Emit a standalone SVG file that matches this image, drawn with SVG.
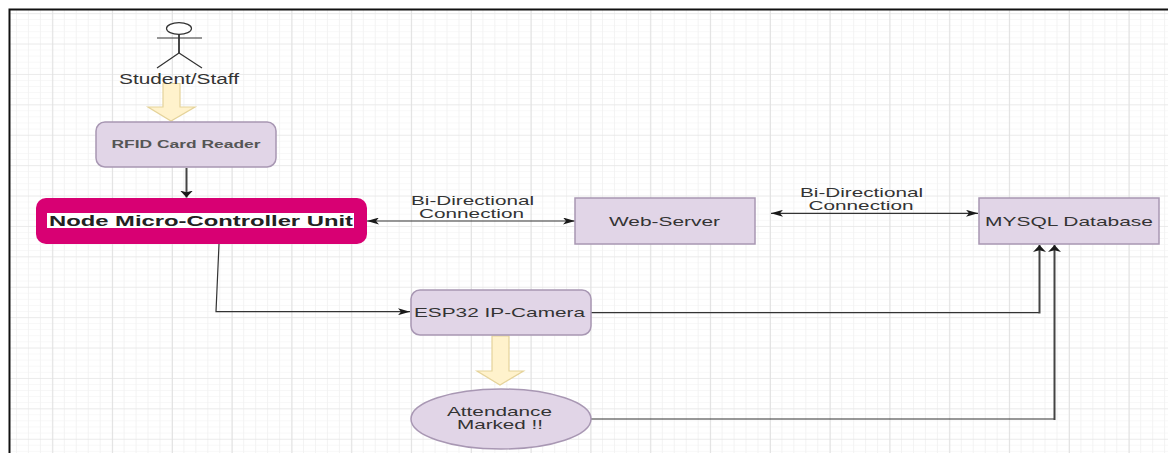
<svg xmlns="http://www.w3.org/2000/svg" width="1168" height="453" viewBox="0 0 1168 453">
<defs>
<marker id="h" viewBox="0 0 10 10" refX="10" refY="5" markerWidth="12" markerHeight="7" markerUnits="userSpaceOnUse" orient="auto-start-reverse" preserveAspectRatio="none"><path d="M0 0L10 5L0 10L2.500 5Z" fill="#1a1a1a"/></marker>
<marker id="v" viewBox="0 0 10 10" refX="10" refY="5" markerWidth="7" markerHeight="13" markerUnits="userSpaceOnUse" orient="auto" preserveAspectRatio="none"><path d="M0 0L10 5L0 10L2.500 5Z" fill="#1a1a1a"/></marker>
<pattern id="minor" x="4" y="7" width="11.960" height="6.080" patternUnits="userSpaceOnUse"><path d="M0 0V6.080" fill="none" stroke="#efefef" stroke-width="1.500"/><path d="M0 0H11.960" fill="none" stroke="#f1f1f1" stroke-width="1"/></pattern>
<pattern id="major" x="-7.500" y="13.200" width="59.800" height="30.400" patternUnits="userSpaceOnUse"><path d="M0 0V30.400" fill="none" stroke="#dcdcdc" stroke-width="1.600"/><path d="M0 0H59.800" fill="none" stroke="#e0e0e0" stroke-width="1.200"/></pattern>
</defs>
<style>
text{font-family:"Liberation Sans",Arial,sans-serif;fill:#333;text-anchor:middle}
.n{fill:#e1d5e7;stroke:#a897b3;stroke-width:1.500}
.c{fill:none;stroke:#333;stroke-width:1.200}
.t{fill:none;stroke:#444;stroke-width:2}
.y{fill:#fff2cc;stroke:#e5d39a;stroke-width:1.200}
</style>
<rect width="1168" height="453" fill="#fff"/>
<rect x="10" y="10" width="1158" height="443" fill="url(#minor)"/>
<rect x="10" y="10" width="1158" height="443" fill="url(#major)"/>
<path d="M9.500 453V9.500H1168" fill="none" stroke="#111" stroke-width="2"/>
<g id="connectors">
<path class="t" d="M186.500 168V197.500" marker-end="url(#v)"/>
<path class="c" d="M367 221H575" marker-start="url(#h)" marker-end="url(#h)"/>
<path class="c" d="M771 213.300H978" marker-start="url(#h)" marker-end="url(#h)"/>
<path class="c" d="M219 244L216 311.700H410" marker-end="url(#h)"/>
<path class="c" d="M591 312.700H1039"/>
<path class="t" d="M1039.500 313.500V245" marker-end="url(#v)"/>
<path class="c" d="M591 419H1054"/>
<path class="t" d="M1054.500 420V245" marker-end="url(#v)"/>
<path class="y" d="M163 83.500H180V107H195L171 121L148 107H163Z"/>
<path class="y" d="M492 336H509V371H523.500L500 385L477 371H492Z"/>
</g>
<g id="actor" fill="none" stroke="#333" stroke-width="1.200">
<ellipse cx="179" cy="28.500" rx="12.500" ry="5.800" fill="#fff"/>
<path d="M157 38H202M157 68L179 53L202 68"/><path d="M179 34V53" stroke-width="1.800"/>
</g>
<g id="student"><text x="179" y="84" font-size="14" textLength="120" lengthAdjust="spacingAndGlyphs">Student/Staff</text></g>
<g id="rfid"><rect class="n" x="96" y="122" width="180" height="45" rx="9"/><text x="186" y="148" font-size="11.500" font-weight="bold" textLength="149" lengthAdjust="spacingAndGlyphs" style="fill:#555">RFID Card Reader</text></g>
<g id="mcu"><rect x="36" y="198" width="331" height="46" rx="10" fill="#d80073"/><rect x="47" y="213" width="307" height="15" fill="#fff"/><text x="201" y="226" font-size="15" font-weight="bold" textLength="304" lengthAdjust="spacingAndGlyphs" style="fill:#222">Node Micro-Controller Unit</text></g>
<g id="web"><rect class="n" x="575" y="198" width="180" height="46"/><text x="664.500" y="225.500" font-size="13.500" textLength="111" lengthAdjust="spacingAndGlyphs">Web-Server</text></g>
<g id="db"><rect class="n" x="979" y="198" width="180" height="46"/><text x="1069" y="225.500" font-size="13.500" textLength="168" lengthAdjust="spacingAndGlyphs">MYSQL Database</text></g>
<g id="cam"><rect class="n" x="411" y="290" width="180" height="45" rx="9"/><text x="499.500" y="316.500" font-size="13.500" textLength="171" lengthAdjust="spacingAndGlyphs">ESP32 IP-Camera</text></g>
<g id="att"><ellipse class="n" cx="501" cy="419" rx="90" ry="30"/><text x="499.500" y="416" font-size="13.500" textLength="105" lengthAdjust="spacingAndGlyphs">Attendance</text><text x="500" y="429" font-size="13.500" textLength="86" lengthAdjust="spacingAndGlyphs">Marked !!</text></g>
<g id="l1"><text x="472.500" y="205" font-size="13.500" textLength="123" lengthAdjust="spacingAndGlyphs">Bi-Directional</text><text x="471.500" y="218" font-size="13.500" textLength="105" lengthAdjust="spacingAndGlyphs">Connection</text></g>
<g id="l2"><text x="861.500" y="197" font-size="13.500" textLength="123" lengthAdjust="spacingAndGlyphs">Bi-Directional</text><text x="861" y="210" font-size="13.500" textLength="105" lengthAdjust="spacingAndGlyphs">Connection</text></g>
</svg>
